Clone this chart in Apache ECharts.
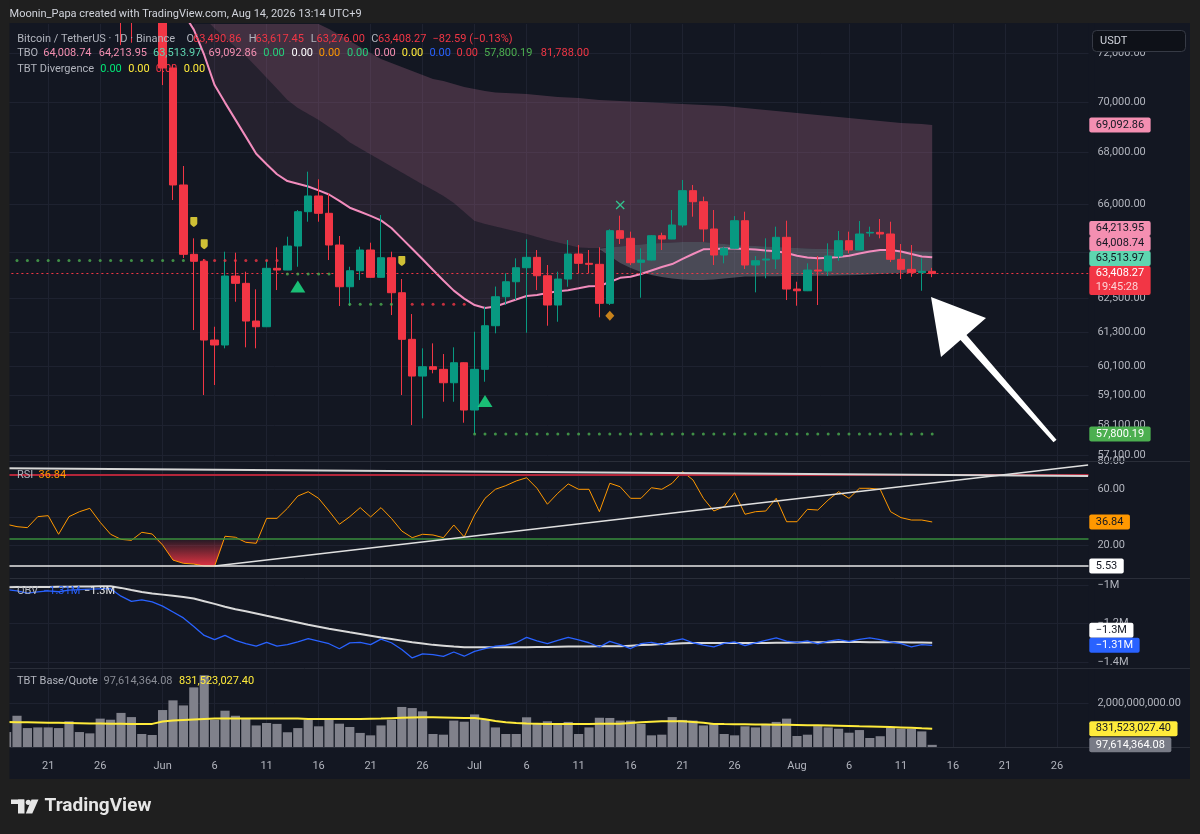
<!DOCTYPE html>
<html>
<head>
<meta charset="utf-8">
<title>Bitcoin / TetherUS 1D</title>
<script src="https://cdn.jsdelivr.net/npm/echarts@6/dist/echarts.min.js"></script>
<style>
html,body{margin:0;padding:0;background:#1f1f1f;overflow:hidden}
#chart{width:1200px;height:834px}
</style>
</head>
<body>
<div id="chart"></div>
<script>
// ================= DATA =================
const startDate = '2026-05-17';
const dayCount = 105;
const tickDays = [1, 6, 11, 16, 21, 26];
const monthNames = ['Jan','Feb','Mar','Apr','May','Jun','Jul','Aug','Sep','Oct','Nov','Dec'];

// price axis labels (log scale) and extra grid line
const priceTicks = [57100, 58100, 59100, 60100, 61300, 62500, 66000, 68000, 70000, 72000];
const priceGridTicks = [57100, 58100, 59100, 60100, 61300, 62500, 64200, 66000, 68000, 70000, 72000];
const rsiTicks = [20, 60, 80];
const rsiGridTicks = [20, 40, 60, 80];
const obvTicks = [-1, -1.2, -1.4];
const volTicks = [2];

// daily candles [open, close, low, high]
const candles = [
[77600,77000,76600,78000],[77000,76700,76300,77400],[76700,76500,76000,77100],[76500,77500,76300,77900],
[77500,77600,77000,78100],[77600,76000,75700,77900],[76000,77000,75800,77400],[77000,77400,76600,77900],
[77400,77800,77000,78200],[77800,76400,76100,78000],[76400,75300,75000,76700],[75300,74600,72350,75700],
[74600,74200,72450,75000],[74200,74800,73300,75100],[74800,74300,73600,75200],
[74300,71400,70700,74600],[71400,66737,66160,71550],[66737,64117,63980,67472],[64117,63860,61374,64713],
[63860,61021,59114,63943],[61021,60846,59456,61491],[60846,63318,60730,64214],[63318,63052,62386,64177],
[63052,61694,60765,63476],[61694,61491,60730,62834],[61491,63601,61480,63906],[63601,63538,62808,64377],
[63538,64426,63530,64773],[64426,65715,63659,65779],[65715,66314,65336,67252],[66314,65654,65336,66956],
[65654,64463,63906,66418],[64463,62928,62231,64799],[62928,63512,62231,63659],[63512,64277,63172,64400],
[64277,63271,63260,64549],[63271,63991,63260,65590],[63991,62711,61908,64214],[62711,61046,59114,63209],
[61046,59765,58099,61944],[59765,60088,58323,60730],[60088,59997,59859,60904],[59997,59534,58885,60530],
[59534,60226,58885,60765],[60226,58604,58176,60240],[58604,59997,57800,61314],[59997,61527,59569,62206],
[61527,62566,61258,62935],[62566,63110,62267,63418],[63110,63623,62447,63969],[63623,64006,61279,64675],
[64006,63329,62808,64277],[63329,62267,61527,63722],[62267,63208,61669,63476],[63208,64129,62928,64649],
[64129,63785,63418,64463],[63785,63748,63418,64277],[63748,62328,61826,64377],[62328,64998,62267,65050],
[64998,64713,64500,65563],[64713,63807,63722,64962],[63821,63906,62530,64340],[63906,64810,63890,64836],
[64810,64686,64277,64923],[64686,65212,64680,65779],[65212,66518,65126,66929],[66518,66095,65525,66737],
[66095,65062,64586,66288],[65062,64092,63722,65779],[64092,64340,63785,64400],[64340,65374,64330,65550],
[65374,63722,63575,65715],[63722,63880,62724,64054],[63906,63943,63234,64713],[63943,64750,63575,65150],
[64750,62844,62447,65374],[62844,62782,62242,63110],[62782,63538,62770,63785],[63538,63501,62267,64054],
[63501,64054,63318,64526],[64054,64623,63880,64987],[64623,64277,64155,64962],[64277,64874,64270,65362],
[64911,64936,64773,65150],[64936,64874,64713,65438],[64874,63932,63832,65336],[63932,63564,63209,64500],
[63564,63440,63293,64463],[63440,63490.86,62783,63969],[63490.86,63408.27,63276.00,63617.45]
];

// TBO basis line (pink)
const ma = [76900,76880,76850,76860,76880,76800,76820,76840,76880,76830,76700,76500,76250,76000,75600,75000,74300,73700,
73000,71939,70700,69988,69304,68627,67953,67542,67153,66888,
66787,66680,66527,66370,66125,65867,65713,65555,65385,65098,
64710,64321,63934,63538,63157,62786,62497,62267,62159,62213,
62339,62465,62592,62628,62700,62765,62797,62870,62946,62953,
63099,63252,63293,63392,63520,63648,63759,63950,64129,64303,
64314,64333,64333,64314,64296,64259,64229,64166,64062,64000,
63969,63991,64017,64066,64144,64222,64277,64277,64222,64129,
64036,64008.74];

// TBO cloud edges (start index + values)
const cloudUpperStart = 18;
const cloudUpperVals = [75500,75500,75500,75500,75500,75500,75500,75500,75500,75500,75500,75500,
73238,73027,72775,72522,72272,72022,71773,71607,71442,71277,71113,70949,70867,70744,70622,70540,70458,70397,
70377,70356,70336,70296,70255,70215,70194,70174,70134,70093,70073,70053,70032,70012,69992,69972,69952,69931,
69911,69891,69871,69850,69810,69770,69730,69689,69649,69609,69569,69528,69489,69449,69408,69368,69328,69289,
69248,69208,69169,69149,69129,69092.86];
const cloudMidStart = 18;
const cloudMidVals = [74000,73500,73050,72650,72272,71900,71448,70999,70552,70093,69771,69530,69288,69009,68731,
68396,68160,67925,67686,67453,67220,66990,66760,66545,66314,66045,65700,65362,65250,65155,65062,64968,64874,
64762,64649,64556,64463,64370,64351,64351];
const bandStart = 57;
const bandTopVals = [64333,64370,64407,64444,64481,64518,64537,64556,64574,64574,64574,64537,64500,64463,64444,
64426,64407,64389,64370,64351,64333,64314,64314,64296,64296,64277,64277,64259,64259,64240,64240,64222,64213.95];
const bandBottomVals = [64314,64054,63796,63612,63465,63355,63282,63227,63190,63172,63172,63190,63227,63263,63300,
63300,63307,63311,63318,63318,63322,63326,63329,63337,63344,63355,63370,63392,63410,63428,63447,63476,63513.97];

// dotted TBO levels: [fromIndex, toIndex, price]
const dotsGreen = [[0,17,63888],[27,31,63392],[33,37,62292],[45,89,57800.19]];
const dotsRed = [[19,26,63888],[39,44,62292]];
const tboSupport = 57800.19;
const tboResistance = 81788.00;

// signal markers [index, price]
const buyTriangles = [[28,62935],[46,58907]];
const divergenceMarks = [[18,65322],[19,64490],[38,63870]];
const crossMarks = [[59,65969]];
const diamondMarks = [[58,61880]];

// RSI
const rsi = [35.2,33.5,32.8,40.6,41.3,28.1,40.6,44.1,46.5,36.6,
28.1,24.5,23.8,29.5,28.3,20.5,9.8,7.5,7.0,5.6,
5.53,26.7,26.0,22.4,21.7,39.4,39.4,46.5,55.2,58.3,
53.6,44.6,35.2,40.6,47.0,40.4,47.0,39.4,30.4,25.7,
28.1,27.6,25.7,34.7,26.2,41.8,53.6,60.0,62.6,65.9,
68.2,60.7,49.4,57.2,63.8,60.0,60.0,44.1,64.3,61.8,
53.6,53.6,61.1,60.0,64.3,72.5,66.6,53.6,44.6,47.7,
57.6,42.3,44.1,44.6,53.6,37.0,37.0,45.8,45.3,52.4,
58.3,53.6,60.7,60.7,60.0,44.1,39.9,38.2,38.2,36.84];
const rsiUpper = 70, rsiLower = 25, rsiLow = 5.53;
const rsiTrendTop = [[0,74.9],[104,69.4]];
const rsiTrendRise = [[20,5.53],[104,77.2]];

// OBV (millions)
const obv = [-1.024,-1.03,-1.042,-1.036,-1.031,-1.035,-1.027,-1.024,-1.021,-1.02,
-1.019,-1.058,-1.085,-1.077,-1.088,-1.11,-1.14,-1.171,-1.215,-1.262,
-1.284,-1.262,-1.288,-1.305,-1.318,-1.298,-1.318,-1.31,-1.295,-1.279,
-1.292,-1.305,-1.331,-1.301,-1.298,-1.31,-1.281,-1.30,-1.335,-1.379,
-1.358,-1.362,-1.371,-1.348,-1.37,-1.345,-1.33,-1.318,-1.313,-1.30,
-1.272,-1.29,-1.305,-1.288,-1.272,-1.285,-1.30,-1.322,-1.293,-1.31,
-1.33,-1.305,-1.298,-1.31,-1.292,-1.28,-1.30,-1.312,-1.322,-1.303,
-1.295,-1.315,-1.301,-1.288,-1.275,-1.292,-1.298,-1.29,-1.306,-1.292,
-1.284,-1.293,-1.283,-1.275,-1.284,-1.295,-1.305,-1.322,-1.31,-1.3134];
const obvMa = [-1.012,-1.011,-1.011,-1.010,-1.010,-1.009,-1.009,-1.008,-1.008,-1.007,
-1.007,-1.015,-1.026,-1.036,-1.044,-1.05,-1.056,-1.062,-1.07,-1.084,
-1.098,-1.113,-1.126,-1.136,-1.148,-1.16,-1.171,-1.183,-1.195,-1.207,
-1.217,-1.227,-1.236,-1.246,-1.255,-1.264,-1.273,-1.281,-1.289,-1.297,
-1.304,-1.311,-1.315,-1.32,-1.323,-1.324,-1.324,-1.324,-1.324,-1.323,
-1.323,-1.322,-1.322,-1.321,-1.32,-1.32,-1.319,-1.318,-1.318,-1.318,
-1.315,-1.312,-1.31,-1.307,-1.305,-1.303,-1.301,-1.301,-1.301,-1.301,
-1.301,-1.301,-1.301,-1.301,-1.300,-1.300,-1.299,-1.299,-1.298,-1.297,
-1.296,-1.296,-1.296,-1.297,-1.297,-1.298,-1.298,-1.299,-1.299,-1.30];

// TBT Base/Quote volume (billions)
const volume = [0.68,1.42,0.86,0.89,0.89,0.86,1.17,0.68,0.62,1.29,
1.24,1.55,1.36,0.59,0.545,1.68,2.12,1.89,2.71,3.26,
1.24,1.65,1.42,1.32,0.98,1.09,1.05,0.67,0.86,1.24,
0.94,1.27,1.06,0.91,0.64,0.53,0.98,1.24,1.82,1.77,
1.62,0.59,0.56,1.2,1.15,1.48,1.24,0.89,0.59,0.59,
1.35,1.05,1.17,1.05,1.14,0.59,0.89,1.33,1.32,1.2,
1.2,1.05,0.53,0.56,1.36,1.23,1.2,0.98,1.05,0.59,
0.53,0.94,0.89,1.05,1.14,1.29,0.5,0.56,0.95,0.89,
0.83,0.65,0.77,0.41,0.49,0.89,0.83,0.83,0.71,0.09761436408];
const volMa = [1.14,1.13,1.12,1.11,1.10,1.10,1.09,1.08,1.07,1.07,
1.06,1.06,1.05,1.05,1.05,1.16,1.20,1.23,1.25,1.27,
1.29,1.29,1.29,1.29,1.29,1.29,1.29,1.29,1.29,1.27,
1.27,1.27,1.27,1.27,1.27,1.28,1.29,1.31,1.33,1.34,
1.35,1.35,1.34,1.33,1.32,1.32,1.26,1.18,1.12,1.09,
1.07,1.06,1.05,1.05,1.05,1.05,1.05,1.055,1.06,1.06,
1.09,1.12,1.15,1.167,1.167,1.167,1.14,1.10,1.05,1.04,
1.035,1.03,1.025,1.02,1.015,1.01,1.0,0.99,0.985,0.975,
0.965,0.955,0.94,0.93,0.92,0.905,0.89,0.87,0.85,0.8315230274];

const countdown = '19:45:28';
const tboZeros = ['#26d07c','#ffffff','#ff9800','#26d07c','#f48fb1','#ffeb3b','#2962ff','#f23645'];
const divZeros = ['#00e676','#ffeb3b','#f23645','#ffeb3b'];

// ================= HELPERS =================
const dates = [];
(function(){ const t0 = Date.parse(startDate + 'T00:00:00Z'); for (let i = 0; i < dayCount; i++) dates.push(new Date(t0 + i * 86400000).toISOString().slice(0, 10)); })();
const fromStart = (start, vals) => new Array(start).fill(null).concat(vals);
const cloudUpper = fromStart(cloudUpperStart, cloudUpperVals);
const cloudMid = fromStart(cloudMidStart, cloudMidVals);
const bandTop = fromStart(bandStart, bandTopVals);
const bandBottom = fromStart(bandStart, bandBottomVals);
const cloudLower = cloudUpper.map((v, i) => cloudMid[i] != null ? cloudMid[i] : bandTop[i]);
const tintUpper = ma.map((v, i) => {
  if (i >= 18 && i <= 57) return cloudMid[i];
  if (i >= 58 && i <= 62) return Math.max(bandBottom[i], v);
  return null;
});
const expand = segs => segs.flatMap(([a, b, v]) => Array.from({length: b - a + 1}, (_, k) => [a + k, v]));
const fmt2 = v => v.toLocaleString('en-US', {minimumFractionDigits: 2, maximumFractionDigits: 2});
const fmtM = v => (Math.round(v * 100) / 100).toString().replace('-', '\u2212') + 'M';
const isTick = (i, val) => tickDays.indexOf(+String(val).slice(8, 10)) >= 0;
const fmtDate = val => { const d = +val.slice(8, 10); return d === 1 ? monthNames[+val.slice(5, 7) - 1] : String(d); };

const BG = '#131722', FRAME = '#1f1f1f', GRID = '#1e2230', TXT = '#b2b5be';
const UP = '#089981', DN = '#f23645';
const FONT = '11px Roboto';
const last = candles.length - 1;
const lastC = candles[last], prevClose = candles[last - 1][1];

function band(upper, lower, from, to, fill, z) {
  return {
    type: 'custom', xAxisIndex: 0, yAxisIndex: 0, silent: true, clip: true, z: z,
    data: [[from, lower[from]]],
    renderItem: function (params, api) {
      const top = [], bot = [];
      for (let i = from; i <= to; i++) {
        if (upper[i] == null || lower[i] == null) continue;
        top.push(api.coord([i, upper[i]]));
        bot.push(api.coord([i, lower[i]]));
      }
      return {type: 'polygon', shape: {points: top.concat(bot.reverse())}, style: {fill: fill}};
    }
  };
}

// ================= OPTION =================
const grids = [
  {top: 24, height: 437}, {top: 461, height: 117}, {top: 579, height: 89}, {top: 669, height: 78}
].map(g => Object.assign({left: 1.4, width: 1092, containLabel: false, outerBoundsMode: 'none'}, g));

const xAxes = grids.map((g, i) => ({
  type: 'category', gridIndex: i, data: dates, boundaryGap: true,
  axisLine: {show: false}, axisTick: {show: false},
  axisLabel: {show: i === 3, interval: isTick, formatter: fmtDate, color: TXT, fontSize: 11, fontFamily: 'Roboto', margin: 14, hideOverlap: false},
  splitLine: {show: true, interval: isTick, alignWithLabel: true, lineStyle: {color: GRID, width: 1}}
}));

const yLabel = (vals, fmt) => ({customValues: vals, formatter: fmt, align: 'left', margin: 4, color: TXT, fontSize: 11, fontFamily: 'Roboto', hideOverlap: false});
const yAxes = [
  {type: 'log', logBase: 10, gridIndex: 0, position: 'right', min: 56904, max: 73238,
   axisLine: {show: false}, axisTick: {show: false, customValues: priceGridTicks},
   axisLabel: yLabel(priceTicks, v => fmt2(v)), splitLine: {show: true, lineStyle: {color: GRID}}},
  {type: 'value', gridIndex: 1, position: 'right', min: -2.91, max: 80.07,
   axisLine: {show: false}, axisTick: {show: false, customValues: rsiGridTicks},
   axisLabel: yLabel(rsiTicks, v => v.toFixed(2)), splitLine: {show: true, lineStyle: {color: GRID}}},
  {type: 'value', gridIndex: 2, position: 'right', min: -1.43117, max: -0.96883,
   axisLine: {show: false}, axisTick: {show: false, customValues: obvTicks},
   axisLabel: yLabel(obvTicks, fmtM), splitLine: {show: true, lineStyle: {color: GRID}}},
  {type: 'value', gridIndex: 3, position: 'right', min: 0, max: 3.5455,
   axisLine: {show: false}, axisTick: {show: false, customValues: volTicks},
   axisLabel: yLabel(volTicks, v => fmt2(v * 1e9)), splitLine: {show: true, lineStyle: {color: GRID}}}
];

const shieldPath = 'path://M1,0 L9,0 Q10,0 10,1 L10,9 Q10,11 5,14 Q0,11 0,9 L0,1 Q0,0 1,0 Z';
const crossPath = 'path://M1,0 L5,4 L9,0 L10,1 L6,5 L10,9 L9,10 L5,6 L1,10 L0,9 L4,5 L0,1 Z';

const series = [
  band(cloudUpper, cloudLower, 18, 89, 'rgba(175,105,140,0.30)', 1),
  band(tintUpper, ma, 18, 62, 'rgba(175,105,140,0.12)', 1),
  band(bandTop, bandBottom, 57, 89, 'rgba(150,145,160,0.42)', 1),
  {type: 'line', xAxisIndex: 0, yAxisIndex: 0, data: ma, showSymbol: false, silent: true, z: 3,
   lineStyle: {color: '#f28cbd', width: 2}},
  {type: 'candlestick', xAxisIndex: 0, yAxisIndex: 0, data: candles, barWidth: 8, z: 5, silent: true,
   itemStyle: {color: UP, color0: DN, borderColor: UP, borderColor0: DN, borderWidth: 1},
   markLine: {symbol: 'none', silent: true, label: {show: false}, animation: false,
     lineStyle: {type: [2, 3], color: DN, width: 1}, data: [{yAxis: lastC[1]}]}},
  {type: 'scatter', xAxisIndex: 0, yAxisIndex: 0, data: expand(dotsGreen), symbol: 'circle', symbolSize: 3, silent: true, z: 6,
   itemStyle: {color: '#4caf50'}},
  {type: 'scatter', xAxisIndex: 0, yAxisIndex: 0, data: expand(dotsRed), symbol: 'circle', symbolSize: 3, silent: true, z: 6,
   itemStyle: {color: '#f23645'}},
  {type: 'scatter', xAxisIndex: 0, yAxisIndex: 0, data: buyTriangles, symbol: 'triangle', symbolSize: [15, 12], silent: true, z: 7,
   itemStyle: {color: '#1de98b'}},
  {type: 'scatter', xAxisIndex: 0, yAxisIndex: 0, data: divergenceMarks, symbol: shieldPath, symbolSize: [7, 10], silent: true, z: 7,
   itemStyle: {color: '#ffeb3b'}},
  {type: 'scatter', xAxisIndex: 0, yAxisIndex: 0, data: crossMarks, symbol: crossPath, symbolSize: 9, silent: true, z: 7,
   itemStyle: {color: '#2ee8a0'}},
  {type: 'scatter', xAxisIndex: 0, yAxisIndex: 0, data: diamondMarks, symbol: 'diamond', symbolSize: [9, 10], silent: true, z: 7,
   itemStyle: {color: '#f59d1a'}},
  // RSI pane
  {type: 'custom', xAxisIndex: 1, yAxisIndex: 1, silent: true, clip: true, z: 2, data: [[0, rsiLower]],
   renderItem: function (params, api) {
     const top = [], bot = [];
     for (let i = 0; i < rsi.length; i++) { top.push(api.coord([i, rsiLower])); bot.push(api.coord([i, Math.min(rsi[i], rsiLower)])); }
     const y0 = api.coord([0, rsiLower])[1], y1 = api.coord([0, rsiLow])[1];
     return {type: 'polygon', shape: {points: top.concat(bot.reverse())},
       style: {fill: new echarts.graphic.LinearGradient(0, y0, 0, y1, [{offset: 0, color: 'rgba(242,54,69,0.05)'}, {offset: 1, color: 'rgba(242,54,69,0.92)'}], true)}};
   }},
  {type: 'line', xAxisIndex: 1, yAxisIndex: 1, data: rsi, showSymbol: false, silent: true, z: 4,
   lineStyle: {color: '#ff9800', width: 1},
   markLine: {symbol: 'none', silent: true, label: {show: false}, animation: false, data: [
     {yAxis: rsiUpper, lineStyle: {color: '#b3263a', width: 2, type: 'solid'}},
     {yAxis: rsiLower, lineStyle: {color: '#388e3c', width: 1.5, type: 'solid'}},
     {yAxis: rsiLow, lineStyle: {color: '#e8e8e8', width: 1.5, type: 'solid'}}
   ]}},
  {type: 'line', xAxisIndex: 1, yAxisIndex: 1, data: rsiTrendTop, showSymbol: false, silent: true, z: 5,
   lineStyle: {color: '#d6d6d6', width: 2}},
  {type: 'line', xAxisIndex: 1, yAxisIndex: 1, data: rsiTrendRise, showSymbol: false, silent: true, z: 5,
   lineStyle: {color: '#e0e0e0', width: 1.5}},
  // OBV pane
  {type: 'line', xAxisIndex: 2, yAxisIndex: 2, data: obvMa, showSymbol: false, silent: true, z: 3,
   lineStyle: {color: '#d9d9d9', width: 2}},
  {type: 'line', xAxisIndex: 2, yAxisIndex: 2, data: obv, showSymbol: false, silent: true, z: 4,
   lineStyle: {color: '#2962ff', width: 1.3}},
  // Volume pane
  {type: 'bar', xAxisIndex: 3, yAxisIndex: 3, data: volume, barWidth: '88%', silent: true, z: 2,
   itemStyle: {color: '#80818b'}},
  {type: 'line', xAxisIndex: 3, yAxisIndex: 3, data: volMa, showSymbol: false, silent: true, z: 4,
   lineStyle: {color: '#ffeb3b', width: 2}}
];

// ================= STATIC GRAPHICS =================
let gid = 0;
const T = (text, x, y, fill, font) => ({type: 'text', id: 't' + (gid++), z: 101,
  style: {text: text, x: x, y: y, fill: fill, font: font || FONT, verticalAlign: 'middle', textVerticalAlign: 'middle'}});
const R = (x, y, w, h, fill, z, extra) => ({type: 'rect', id: 'r' + (gid++), z: z,
  shape: Object.assign({x: x, y: y, width: w, height: h}, extra || {}), style: {fill: fill}});

const statics = [
  R(1088.5, 23, 6, 725, BG, 90),
  R(0, 0, 1200, 23, FRAME, 100), R(0, 0, 9.5, 834, FRAME, 100), R(1190, 0, 10, 834, FRAME, 100), R(0, 779, 1200, 55, FRAME, 100)
];
[461.5, 578.5, 668.5, 747.5].forEach(y => statics.push({type: 'line', id: 'l' + (gid++), z: 95,
  shape: {x1: 9.5, y1: y, x2: 1190, y2: y}, style: {stroke: '#2a2e39', lineWidth: 1}}));

statics.push(T('Moonin_Papa created with TradingView.com, Aug 14, 2026 13:14 UTC+9', 9.6, 14, '#d1d4dc'));

// legend row 1
const chg = lastC[1] - prevClose, chgPct = chg / prevClose * 100;
const minus = s => s.replace('-', '\u2212');
[['Bitcoin / TetherUS \u00b7 1D \u00b7 Binance', TXT, 17.2], ['O', TXT, 186.4], [fmt2(lastC[0]), DN, 193],
 ['H', TXT, 248.8], [fmt2(lastC[3]), DN, 255.5], ['L', TXT, 310.8], [fmt2(lastC[2]), DN, 316.5],
 ['C', TXT, 371.2], [fmt2(lastC[1]), DN, 378],
 [minus(fmt2(chg)) + ' (' + minus(chgPct.toFixed(2)) + '%)', DN, 432.5]
].forEach(([t, c, x]) => statics.push(T(t, x, 39.3, c)));
// legend row 2
const row2 = [['TBO', TXT, 17.2], [fmt2(ma[last]), '#f48fb1', 43.2], [fmt2(bandTop[last]), '#f48fb1', 98.7],
  [fmt2(bandBottom[last]), '#5ed6b0', 153], [fmt2(cloudUpper[last]), '#f48fb1', 208.6]];
const zeroX = [263.3, 291.6, 318.8, 347, 374.3, 401.8, 429.4, 456.6];
tboZeros.forEach((c, k) => row2.push(['0.00', c, zeroX[k]]));
row2.push([fmt2(tboSupport), '#4caf50', 484.1], [fmt2(tboResistance), '#f23645', 540.8]);
row2.forEach(([t, c, x]) => statics.push(T(t, x, 53.5, c)));
// legend row 3
statics.push(T('TBT Divergence', 17.2, 69.5, TXT));
const divX = [100.3, 128.2, 155.8, 183.7];
divZeros.forEach((c, k) => statics.push(T('0.00', divX[k], 69.5, c)));
// pane legends
statics.push(T('RSI', 17, 475.5, TXT), T(rsi[last].toFixed(2), 38.5, 475.5, '#ff9800'));
statics.push(T('OBV', 17, 591.5, TXT), T(fmtM(obv[last]), 43, 591.5, '#2962ff'), T(fmtM(obvMa[last]), 84, 591.5, '#e8e8e8'));
statics.push(T('TBT Base/Quote', 17, 681.5, TXT), T(fmt2(volume[last] * 1e9), 103.5, 681.5, '#8a8d96'),
  T(fmt2(volMa[last] * 1e9), 179, 681.5, '#ffeb3b'));

// USDT button
statics.push({type: 'rect', id: 'usdtBox', z: 101, shape: {x: 1092.5, y: 30.5, width: 93, height: 21, r: 4},
  style: {fill: '#0e1118', stroke: '#363a45', lineWidth: 1}});
statics.push(T('USDT', 1100, 41, '#d1d4dc'));

// annotation arrow
statics.push({type: 'polygon', id: 'arrow', z: 96, shape: {points: [
  [931, 297], [986, 318], [966.5, 334.9], [1056.5, 439.7], [1053.5, 442.3], [960.5, 340.1], [941, 357]
]}, style: {fill: '#ffffff'}});

// TradingView logo
statics.push(R(11, 799.5, 13, 4.5, '#e6e6e6', 101), R(18, 799.5, 6.5, 14, '#e6e6e6', 101));
statics.push({type: 'circle', id: 'logoDot', z: 101, shape: {cx: 28.3, cy: 802.3, r: 2.6}, style: {fill: '#e6e6e6'}});
statics.push({type: 'polygon', id: 'logoSlash', z: 101, shape: {points: [[31.5, 799.5], [38.5, 799.5], [32.3, 813.5], [25.8, 813.5]]}, style: {fill: '#e6e6e6'}});
statics.push(T('TradingView', 44.5, 806.5, '#e6e6e6', 'bold 19px Roboto'));

const option = {
  backgroundColor: BG,
  animation: false,
  grid: grids,
  xAxis: xAxes,
  yAxis: yAxes,
  series: series,
  graphic: {elements: statics}
};

const chart = echarts.init(document.getElementById('chart'), null, {width: 1200, height: 834});
chart.setOption(option);

// ================= RIGHT-SCALE VALUE BOXES =================
const mctx = document.createElement('canvas').getContext('2d');
mctx.font = FONT;
const boxEls = [];
function placeBoxes(axis, list) {
  list.forEach(b => {
    b.y = chart.convertToPixel({yAxisIndex: axis}, b.v);
    b.h = b.sub ? 29 : 15;
    b.top = b.y - 7.5;
  });
  const anchor = list.find(b => b.anchor);
  const above = list.filter(b => b !== anchor && b.y <= anchor.y).sort((a, b) => b.y - a.y);
  let limit = anchor.top;
  above.forEach(b => { if (b.top + b.h > limit) b.top = limit - b.h; limit = b.top; });
  const below = list.filter(b => b !== anchor && b.y > anchor.y).sort((a, b) => a.y - b.y);
  limit = anchor.top + anchor.h;
  below.forEach(b => { if (b.top < limit) b.top = limit; limit = b.top + b.h; });
  list.forEach(b => {
    const w = Math.max(mctx.measureText(b.text).width, b.sub ? mctx.measureText(b.sub).width : 0) + 13;
    boxEls.push({type: 'rect', id: 'b' + (gid++), z: 120, shape: {x: 1089.3, y: b.top, width: w, height: b.h, r: 2}, style: {fill: b.bg}});
    boxEls.push({type: 'text', id: 'b' + (gid++), z: 121, style: {text: b.text, x: 1095.8, y: b.top + 7.5, fill: b.fg, font: FONT, verticalAlign: 'middle', textVerticalAlign: 'middle'}});
    if (b.sub) boxEls.push({type: 'text', id: 'b' + (gid++), z: 121, style: {text: b.sub, x: 1095.8, y: b.top + 21.5, fill: 'rgba(255,255,255,0.78)', font: FONT, verticalAlign: 'middle', textVerticalAlign: 'middle'}});
  });
}
placeBoxes(0, [
  {v: cloudUpper[last], text: fmt2(cloudUpper[last]), bg: '#f48fb1', fg: '#131722'},
  {v: bandTop[last], text: fmt2(bandTop[last]), bg: '#f48fb1', fg: '#131722'},
  {v: ma[last], text: fmt2(ma[last]), bg: '#f48fb1', fg: '#131722'},
  {v: bandBottom[last], text: fmt2(bandBottom[last]), bg: '#5ed6b0', fg: '#131722'},
  {v: lastC[1], text: fmt2(lastC[1]), sub: countdown, bg: DN, fg: '#ffffff', anchor: true},
  {v: tboSupport, text: fmt2(tboSupport), bg: '#4caf50', fg: '#ffffff'}
]);
placeBoxes(1, [
  {v: rsi[last], text: rsi[last].toFixed(2), bg: '#ff9800', fg: '#131722', anchor: true},
  {v: rsiLow, text: rsiLow.toFixed(2), bg: '#ffffff', fg: '#131722'}
]);
placeBoxes(2, [
  {v: obvMa[last], text: fmtM(obvMa[last]), bg: '#ffffff', fg: '#131722'},
  {v: obv[last], text: fmtM(obv[last]), bg: '#2962ff', fg: '#ffffff', anchor: true}
]);
placeBoxes(3, [
  {v: volMa[last], text: fmt2(volMa[last] * 1e9), bg: '#ffeb3b', fg: '#131722'},
  {v: volume[last], text: fmt2(volume[last] * 1e9), bg: '#787b86', fg: '#ffffff', anchor: true}
]);
chart.setOption({graphic: {elements: statics.concat(boxEls)}});
</script>
</body>
</html>
